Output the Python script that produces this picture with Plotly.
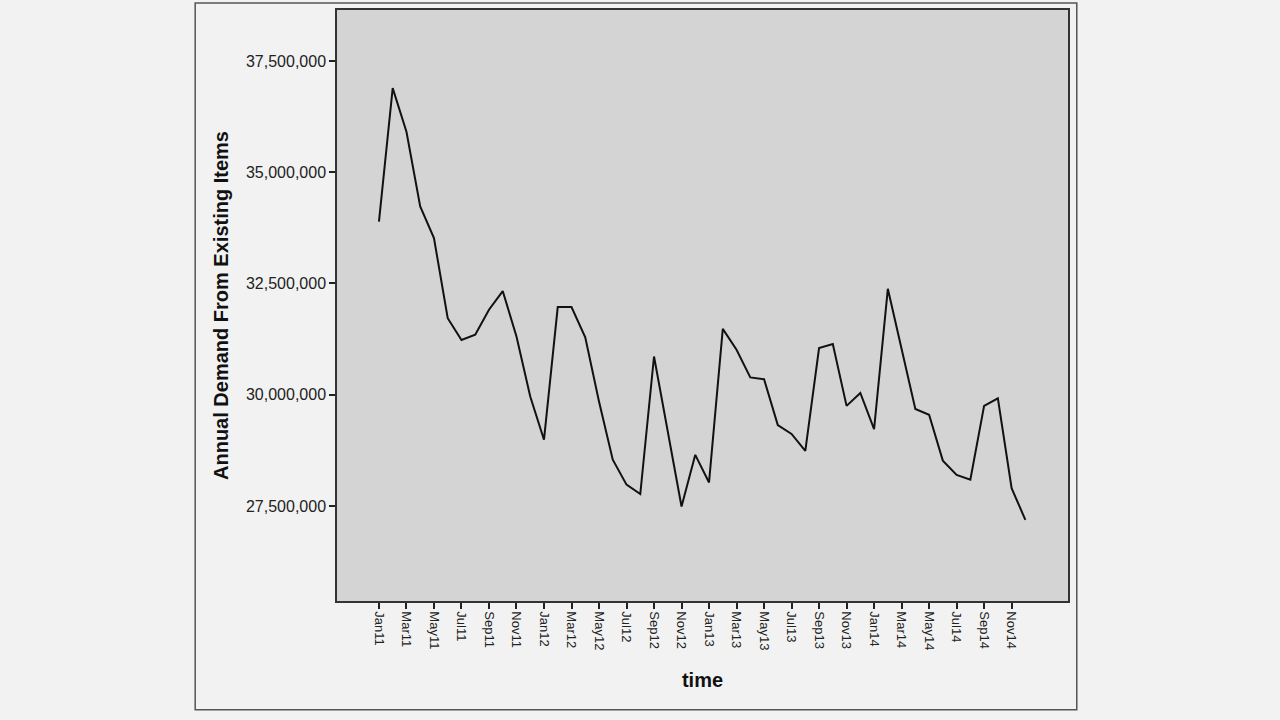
import plotly.graph_objects as go

months = ['Jan', 'Feb', 'Mar', 'Apr', 'May', 'Jun',
          'Jul', 'Aug', 'Sep', 'Oct', 'Nov', 'Dec']
years = ['11', '12', '13', '14']
time_labels = [m + y for y in years for m in months]

# one value per month Jan11..Dec14
demand = [
    33890000, 36890000, 35910000, 34230000, 33520000, 31720000,
    31230000, 31350000, 31910000, 32330000, 31310000, 29960000,
    28990000, 31970000, 31970000, 31290000, 29850000, 28540000,
    27980000, 27770000, 30860000, 29210000, 27490000, 28650000,
    28030000, 31480000, 31010000, 30390000, 30350000, 29320000,
    29120000, 28740000, 31050000, 31140000, 29750000, 30040000,
    29230000, 32380000, 31010000, 29680000, 29550000, 28520000,
    28200000, 28090000, 29750000, 29920000, 27900000, 27190000,
]
y_ticks = [27500000, 30000000, 32500000, 35000000, 37500000]
x_ticks = time_labels[::2]

fig = go.Figure()
fig.add_trace(go.Scatter(
    x=time_labels, y=demand,
    mode='lines',
    line=dict(color='#111111', width=2),
    hoverinfo='x+y',
    showlegend=False,
))

font_family = 'Liberation Sans, Arial, sans-serif'
title_font = dict(family=font_family, size=20, color='#111111')

fig.update_layout(
    width=1280, height=720,
    paper_bgcolor='#f2f2f2',
    plot_bgcolor='#d4d4d4',
    margin=dict(l=337, r=212, t=10, b=119),
    xaxis=dict(
        type='category',
        range=[-3.05, 50.1],
        tickvals=x_ticks,
        tickangle=90,
        ticks='outside', ticklen=6, tickwidth=1.5, tickcolor='#222222',
        showline=True, linecolor='#333333', linewidth=1.5, mirror=True,
        showgrid=False, zeroline=False,
        tickfont=dict(family=font_family, size=13, color='#222222'),
        title=dict(text='<b>time</b>', font=title_font, standoff=24),
        automargin=False,
    ),
    yaxis=dict(
        range=[25366000, 38645000],
        tickvals=y_ticks,
        tickformat=',d',
        ticks='outside', ticklen=6, tickwidth=1.5, tickcolor='#222222',
        showline=True, linecolor='#333333', linewidth=1.5, mirror=True,
        showgrid=False, zeroline=False,
        tickfont=dict(family=font_family, size=16, color='#222222'),
        title=dict(text='<b>Annual Demand From Existing Items</b>', font=title_font, standoff=12),
        automargin=False,
    ),
    shapes=[
        dict(type='rect', xref='paper', yref='paper',
             x0=-0.194, x1=1.012, y0=-0.184, y1=1.012,
             line=dict(color='#555555', width=1.5), fillcolor='rgba(0,0,0,0)',
             layer='below'),
    ],
)

# drop the page margin so the figure sits at the top-left corner
fig.write_html('out.html', config={'displayModeBar': False},
               post_script="document.body.style.margin='0';")
